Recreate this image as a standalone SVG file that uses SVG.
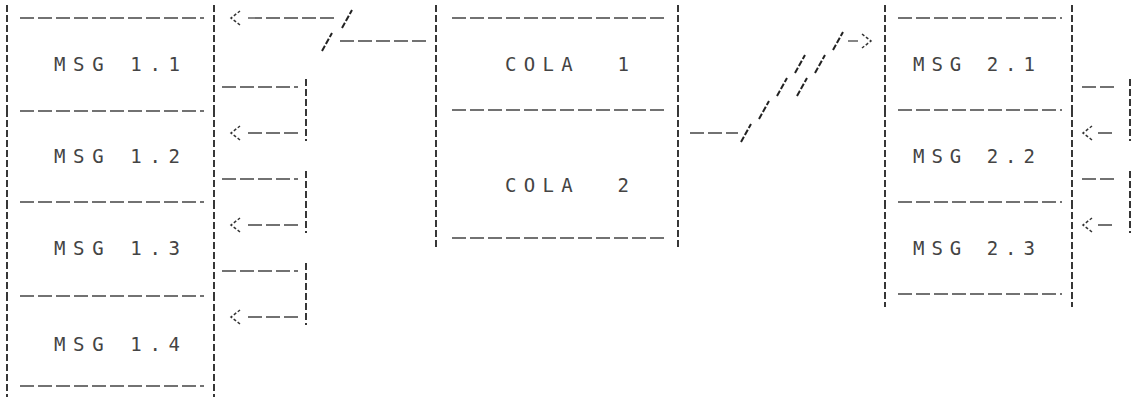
<svg xmlns="http://www.w3.org/2000/svg" xmlns:xlink="http://www.w3.org/1999/xlink" width="1136" height="397" viewBox="0 0 1136 397">
<style>
.v{stroke:#222;stroke-width:1.8;stroke-dasharray:7 3;fill:none}
.h{stroke:#444;stroke-width:1.3;stroke-dasharray:14 4;fill:none}
.sl{stroke:#222;stroke-width:2;stroke-dasharray:6 2;fill:none}
.t{font-family:"DejaVu Sans Mono","Liberation Mono",monospace;font-size:19px;fill:#444;white-space:pre}
</style>
<defs>
<marker id="ah" markerUnits="userSpaceOnUse" markerWidth="16" markerHeight="18" viewBox="-6 -9 16 18" refX="-4" refY="0" orient="auto" overflow="visible">
<path d="M0,-7 L9,0 L0,7" fill="none" stroke="#333" stroke-width="1.5" stroke-dasharray="3 2"/>
</marker>
<path id="sl" class="sl" d="M-5,9L5,-9"/>
</defs>
<rect width="1136" height="397" fill="#fff"/>
<g id="msg1-1">
<path class="v" d="M7,5V110M214,5V110"/>
<path class="h" d="M20,18H204"/>
<text class="t" x="54" y="71" textLength="126" lengthAdjust="spacing">MSG 1.1</text>
</g>
<g id="msg1-2">
<path class="v" d="M7,110V202M214,110V202"/>
<path class="h" d="M20,111H204"/>
<text class="t" x="54" y="163" textLength="126" lengthAdjust="spacing">MSG 1.2</text>
</g>
<g id="msg1-3">
<path class="v" d="M7,202V294M214,202V294"/>
<path class="h" d="M20,202H204"/>
<text class="t" x="54" y="255" textLength="126" lengthAdjust="spacing">MSG 1.3</text>
</g>
<g id="msg1-4">
<path class="v" d="M7,294V397M214,294V397"/>
<path class="h" d="M20,296H204M20,386H204"/>
<text class="t" x="54" y="351" textLength="126" lengthAdjust="spacing">MSG 1.4</text>
</g>
<g id="cola-1">
<path class="v" d="M436,5V110M678,5V110"/>
<path class="h" d="M452,18H668"/>
<text class="t" x="505" y="71" textLength="124" lengthAdjust="spacing">COLA  1</text>
</g>
<g id="cola-2">
<path class="v" d="M436,110V248M678,110V248"/>
<path class="h" d="M452,110H668M452,238H668"/>
<text class="t" x="505" y="192" textLength="124" lengthAdjust="spacing">COLA  2</text>
</g>
<g id="msg2-1">
<path class="v" d="M885,5V110M1072,5V110"/>
<path class="h" d="M898,18H1062"/>
<text class="t" x="913" y="71" textLength="122" lengthAdjust="spacing">MSG 2.1</text>
</g>
<g id="msg2-2">
<path class="v" d="M885,110V202M1072,110V202"/>
<path class="h" d="M898,110H1062"/>
<text class="t" x="913" y="163" textLength="122" lengthAdjust="spacing">MSG 2.2</text>
</g>
<g id="msg2-3">
<path class="v" d="M885,202V307M1072,202V307"/>
<path class="h" d="M898,202H1062M898,294H1062"/>
<text class="t" x="913" y="255" textLength="122" lengthAdjust="spacing">MSG 2.3</text>
</g>
<g id="connectors">
<path class="h" d="M426,41H338"/>
<use xlink:href="#sl" x="327" y="42"/>
<use xlink:href="#sl" x="347" y="19"/>
<path class="h" d="M334,18H244" marker-end="url(#ah)"/>
<path class="h" d="M222,87H298M298,133H244" marker-end="url(#ah)"/>
<path class="v" d="M306,79V141"/>
<path class="h" d="M222,179H298M298,225H244" marker-end="url(#ah)"/>
<path class="v" d="M306,171V233"/>
<path class="h" d="M222,271H298M298,317H244" marker-end="url(#ah)"/>
<path class="v" d="M306,263V325"/>
<path class="h" d="M690,133H738"/>
<use xlink:href="#sl" x="746" y="133"/>
<use xlink:href="#sl" x="764" y="110"/>
<use xlink:href="#sl" x="782" y="87"/>
<use xlink:href="#sl" x="800" y="64"/>
<use xlink:href="#sl" x="802" y="87"/>
<use xlink:href="#sl" x="820" y="64"/>
<use xlink:href="#sl" x="838" y="41"/>
<path class="h" d="M848,41H858" marker-end="url(#ah)"/>
<path class="h" d="M1082,87H1114M1112,133H1096" marker-end="url(#ah)"/>
<path class="v" d="M1130,79V141"/>
<path class="h" d="M1082,179H1114M1112,225H1096" marker-end="url(#ah)"/>
<path class="v" d="M1130,171V233"/>
</g>
</svg>
